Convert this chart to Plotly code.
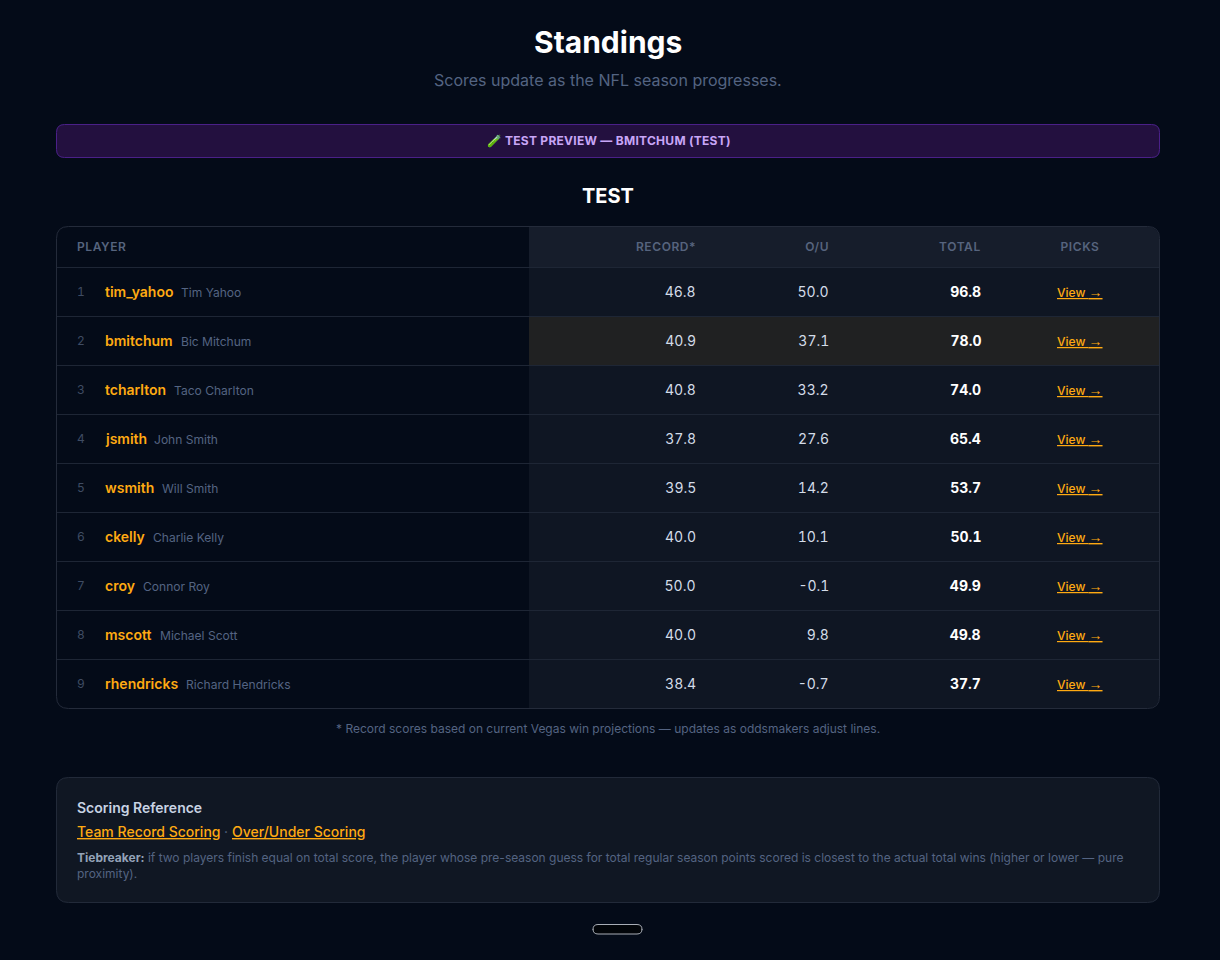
import plotly.graph_objects as go

# ---- data ----
ranks = [1, 2, 3, 4, 5, 6, 7, 8, 9]
usernames = ["tim_yahoo", "bmitchum", "tcharlton", "jsmith", "wsmith", "ckelly", "croy", "mscott", "rhendricks"]
full_names = ["Tim Yahoo", "Bic Mitchum", "Taco Charlton", "John Smith", "Will Smith", "Charlie Kelly", "Connor Roy", "Michael Scott", "Richard Hendricks"]
record = ["46.8", "40.9", "40.8", "37.8", "39.5", "40.0", "50.0", "40.0", "38.4"]
over_under = ["50.0", "37.1", "33.2", "27.6", "14.2", "10.1", "-0.1", "9.8", "-0.7"]
total = ["96.8", "78.0", "74.0", "65.4", "53.7", "50.1", "49.9", "49.8", "37.7"]
headers = ["PLAYER", "RECORD*", "O/U", "TOTAL", "PICKS"]

# ---- layout helpers (pixel-based page axes) ----
FONT = "Inter"
BG = "#040b18"
BORDER = "#1e2635"
MUTED = "#546482"
ORANGE = "#ffaa12"
ROW_H = 49
NAME_X = [181, 180.5, 174, 154, 162, 152.5, 142.5, 159.5, 185.5]
TNUM = "font-feature-settings:'tnum' 1;"
shapes, annos, css = [], [], []


def rr(x0, y0, x1, y1, r=(0, 0, 0, 0)):
    tl, tr, br, bl = r
    return (f"M{x0+tl},{y0} L{x1-tr},{y0} Q{x1},{y0} {x1},{y0+tr} L{x1},{y1-br} Q{x1},{y1} {x1-br},{y1} "
            f"L{x0+bl},{y1} Q{x0},{y1} {x0},{y1-bl} L{x0},{y0+tl} Q{x0},{y0} {x0+tl},{y0} Z")


def box(x0, y0, x1, y1, r, fill, line=None, w=1):
    shapes.append(dict(type="path", path=rr(x0, y0, x1, y1, r), fillcolor=fill,
                       line=dict(color=line or fill, width=w if line else 0), layer="below"))


def hline(y, x0, x1, color=BORDER):
    shapes.append(dict(type="line", x0=x0, x1=x1, y0=y, y1=y, line=dict(color=color, width=1), layer="below"))


def txt(x, y, s, size, color, weight=400, anchor="left", under=False, style=None):
    f = dict(family=FONT, size=size, color=color, weight=weight)
    if under:
        f["lineposition"] = "under"
    if style:
        css.append(f'.annotation[data-index="{len(annos)}"]{{{style}}}')
    annos.append(dict(x=x, y=y, xref="x", yref="y", text=s, showarrow=False, xanchor=anchor, yanchor="middle",
                      align=anchor, font=f, borderpad=0, borderwidth=0))


# page heading
txt(607.5, 42, "<b>Standings</b>", 30, "#ffffff", 700, "center")
txt(607.5, 80, "Scores update as the NFL season progresses.", 16, MUTED, 400, "center")

# banner
box(56.5, 124.5, 1159.5, 157.5, (8, 8, 8, 8), "#23103f", "#4a2088")
txt(487, 140.5, "🧪", 12, "#c8a6f7", 400, "left", style="filter:hue-rotate(-75deg);")
txt(505, 140.5, "TEST PREVIEW — BMITCHUM (TEST)", 12, "#c8a6f7", 700, "left", style="letter-spacing:.27px;")
txt(607.5, 196, "TEST", 20, "#ffffff", 700, "center")

# table fills
R = 12
box(56.5, 226.5, 1159.5, 708.5, (R, R, R, R), BG)
box(529, 227, 1159, 267, (0, R, 0, 0), "#161d2b")
box(529, 268, 1159, 708, (0, 0, R, 0), "#0f1623")
shapes.append(dict(type="rect", x0=529, x1=1159, y0=317, y1=365, fillcolor="#202122", line=dict(width=0), layer="below"))
for i in range(len(ranks)):
    hline(267.5 + i * ROW_H, 57, 1159)
box(56.5, 226.5, 1159.5, 708.5, (R, R, R, R), "rgba(0,0,0,0)", "#242b3a")

# headers
HEAD_COLOR = "#56647e"
HEAD_STYLE = "letter-spacing:.58px;"
txt(76.5, 246.5, headers[0], 12, HEAD_COLOR, 600, style=HEAD_STYLE)
txt(696, 246.5, headers[1], 12, HEAD_COLOR, 600, "right", style=HEAD_STYLE)
txt(828.5, 246.5, headers[2], 12, HEAD_COLOR, 600, "right", style=HEAD_STYLE)
txt(981, 246.5, headers[3], 12, HEAD_COLOR, 600, "right", style=HEAD_STYLE)
txt(1079.7, 246.5, headers[4], 12, HEAD_COLOR, 600, "center", style=HEAD_STYLE)

# rows
VIEW = "View <span style='font-family:Liberation Sans;font-size:14px'>→</span>"
for i in range(len(ranks)):
    y = 292 + i * ROW_H
    txt(76.5, y - 0.5, str(ranks[i]), 12, "#3f4c63", style=TNUM)
    txt(104.5, y - 0.5, usernames[i], 14, ORANGE, 600)
    txt(NAME_X[i], y + 0.5, full_names[i], 12.05, MUTED)
    txt(695.5, y - 0.4, record[i], 14, "#d3dce8", 400, "right", style=TNUM)
    txt(828.5, y - 0.4, over_under[i], 14, "#d3dce8", 400, "right", style=TNUM)
    txt(980.5, y - 0.4, total[i], 14, "#ffffff", 700, "right", style=TNUM)
    txt(1080, y - 0.3, VIEW, 12, ORANGE, 500, "center", under=True)

txt(607.5, 728.5, "* Record scores based on current Vegas win projections — updates as oddsmakers adjust lines.", 12, MUTED, 400, "center")

# scoring box
box(56.5, 777.5, 1159.5, 902.5, (R, R, R, R), "#101723", "#222a39")
txt(76.5, 807.5, "Scoring Reference", 14, "#c8d3e3", 600)
txt(76.5, 831.5, "Team Record Scoring", 14, ORANGE, 500, under=True)
txt(224, 831.5, "·", 14, MUTED)
txt(232, 831.5, "Over/Under Scoring", 14, ORANGE, 500, under=True)
txt(76.5, 857.5,
    "<b style='color:#94a3b8'>Tiebreaker:</b> if two players finish equal on total score, the player whose pre-season guess for total regular season points scored is closest to the actual total wins (higher or lower — pure",
    12, MUTED)
txt(76.5, 873.5, "proximity).", 12, MUTED)

# small empty pill
box(593, 924.5, 642, 934, (5, 5, 5, 5), "#020509", "#a8adb5")

fig = go.Figure()
fig.update_layout(
    width=1220, height=960, autosize=False, margin=dict(l=0, r=0, t=0, b=0),
    paper_bgcolor=BG, plot_bgcolor=BG, showlegend=False,
    xaxis=dict(range=[0, 1220], visible=False, fixedrange=True),
    yaxis=dict(range=[960, 0], visible=False, fixedrange=True),
    shapes=shapes, annotations=annos,
)
post = (
    "document.body.style.margin='0';document.body.style.background='" + BG + "';document.body.style.overflow='hidden';"
    "var s=document.createElement('style');s.textContent=" + repr("".join(css)) + ";document.head.appendChild(s);"
    "Plotly.redraw(document.getElementById('{plot_id}'));"
)
fig.write_html("out.html", config={"displayModeBar": False}, post_script=post)
